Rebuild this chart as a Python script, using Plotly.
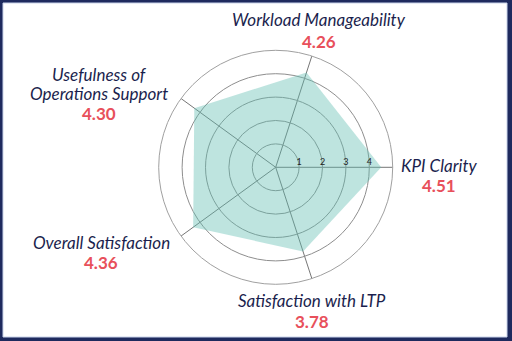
import plotly.graph_objects as go

# Survey dimensions (counter-clockwise from the east axis) and their mean scores
categories = [
    "KPI Clarity",
    "Workload Manageability",
    "Usefulness of Operations Support",
    "Overall Satisfaction",
    "Satisfaction with LTP",
]
scores = [4.51, 4.26, 4.30, 4.36, 3.78]
radial_ticks = [1, 2, 3, 4]

# Label blocks placed around the radar: (title lines, pixel x, title y, value y)
label_layout = [
    (["KPI Clarity"], 439, [165], 185),
    (["Workload Manageability"], 319, [20], 41),
    (["Usefulness of", "Operations Support"], 99, [74, 93], 114),
    (["Overall Satisfaction"], 101, [242], 262),
    (["Satisfaction with LTP"], 312, [300], 321),
]

W, H = 512, 341
NAVY = "#1e2a5e"
TEXT_NAVY = "#1b1f4e"
VALUE_RED = "#e8505b"

fig = go.Figure()
fig.add_trace(
    go.Scatterpolar(
        r=scores + scores[:1],
        theta=categories + categories[:1],
        mode="lines",
        fill="toself",
        fillcolor="rgba(96,190,178,0.41)",
        line=dict(width=0, color="rgba(96,190,178,0.41)"),
        hoverinfo="skip",
        showlegend=False,
    )
)

# polar area: centre (275.7, 167.3) px, radius 117 px
cx, cy, rad = 275.7, 167.3, 117
fig.update_layout(
    width=W,
    height=H,
    margin=dict(l=0, r=0, t=0, b=0),
    paper_bgcolor=NAVY,
    polar=dict(
        domain=dict(
            x=[(cx - rad) / W, (cx + rad) / W],
            y=[(H - cy - rad) / H, (H - cy + rad) / H],
        ),
        bgcolor="white",
        radialaxis=dict(
            range=[0, 5],
            tickvals=radial_ticks,
            ticktext=[str(t) for t in radial_ticks],
            ticks="",
            angle=0,
            tickangle=0,
            side="counterclockwise",
            showline=False,
            gridcolor="#8e8e8e",
            gridwidth=1,
            tickfont=dict(family="Lato", size=9, color="#222"),
        ),
        angularaxis=dict(
            rotation=0,
            direction="counterclockwise",
            showticklabels=False,
            ticks="",
            linecolor="#a0a0a0",
            linewidth=1,
            gridcolor="#767676",
            gridwidth=1,
        ),
    ),
)

# white card inside the navy frame
fig.add_shape(
    type="rect",
    xref="paper",
    yref="paper",
    x0=3 / W,
    x1=507 / W,
    y0=4 / H,
    y1=1 - 3 / H,
    fillcolor="white",
    line=dict(width=1, color="#c9d3ea"),
    layer="below",
)

for (lines, px, title_ys, value_y), val in zip(label_layout, scores):
    for text, py in zip(lines, title_ys):
        fig.add_annotation(
            x=px / W,
            y=1 - py / H,
            xref="paper",
            yref="paper",
            text=f"<i>{text}</i>",
            showarrow=False,
            xanchor="center",
            yanchor="middle",
            font=dict(family="Lato", size=17, color=TEXT_NAVY),
        )
    fig.add_annotation(
        x=px / W,
        y=1 - value_y / H,
        xref="paper",
        yref="paper",
        text=f"<b>{val:.2f}</b>",
        showarrow=False,
        xanchor="center",
        yanchor="middle",
        font=dict(family="Lato", size=17, color=VALUE_RED),
    )

fig.write_html("out.html")
